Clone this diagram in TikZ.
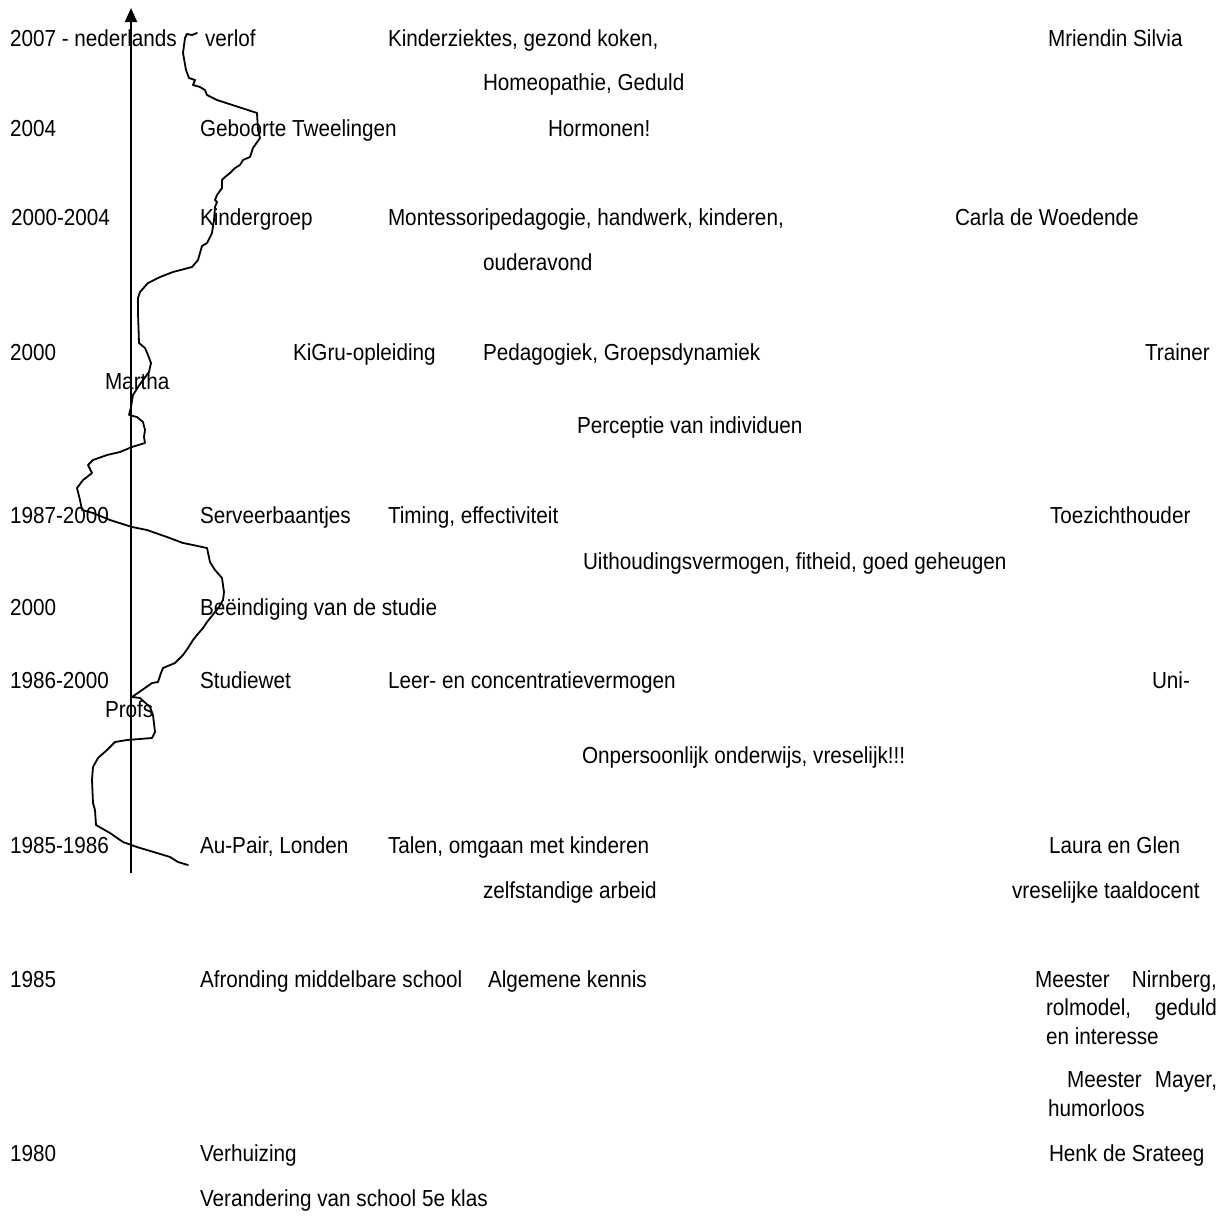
\documentclass[tikz,border=0pt]{standalone}
\usepackage{graphicx}
\usepackage{fontspec}
\setmainfont{Liberation Sans}
\usetikzlibrary{arrows.meta}
\newcommand\vstretch[1]{\scalebox{1}[1.12]{#1}}
\begin{document}
\begin{tikzpicture}[x=1pt,y=-1pt,
  lbl/.style={anchor=base west,inner sep=0pt,outer sep=0pt,font=\fontsize{20.7}{24}\selectfont},
  axisline/.style={line width=2pt,-{Triangle[width=12pt,length=14pt]}},
  lifeline/.style={line width=1.8pt,line join=round,line cap=round}]
\useasboundingbox[fill=white] (0,0) rectangle (1228,1216);
% axis
\coordinate (axbot) at (131,873);
\coordinate (axtop) at (131,8);
\draw[axisline] (axbot) -- (axtop);
% life curve
\draw[lifeline] plot coordinates {
(197,33) (192,35) (187,34) (185,38) (183,53) (186,70) (189,78) (195,80) (193,85) (200,87) (205,90) (207,95) (217,100) (257,113) (258,130) (260,138) (253,148) (250,157) (243,160) (240,165) (235,168) (230,173) (225,177) (222,180) (222,188) (217,195) (215,200) (217,202) (215,207) (214,220) (212,233) (207,243) (202,246) (200,253) (198,260) (192,267) (173,272) (160,277) (148,283) (140,292) (138,298) (138,313) (139,343) (145,348) (148,355) (151,363) (149,372) (143,380) (138,387) (133,395) (131,407) (129,415) (137,417) (143,422) (145,430) (144,437) (145,443) (132,447) (120,452) (107,455) (93,460) (88,465) (92,473) (87,477) (83,480) (77,488) (80,500) (82,510) (93,513) (110,520) (132,527) (147,530) (167,537) (183,543) (193,545) (207,548) (210,562) (215,570) (222,578) (224,592) (223,600) (219,607) (215,612) (207,622) (203,628) (197,635) (193,640) (188,648) (183,655) (175,663) (163,668) (161,673) (158,682) (152,683) (145,688) (132,697) (140,698) (150,707) (153,715) (155,732) (152,738) (127,740) (115,742) (107,750) (98,758) (93,767) (92,780) (93,803) (95,810) (96,825) (110,833) (123,842) (137,847) (157,853) (170,857) (178,862) (188,865)};
% texts
\node[lbl] (y2007) at (10,46) {\vstretch{2007 - nederlands}};
\node[lbl] (verlof) at (205,46) {\vstretch{verlof}};
\node[lbl] (kinderz) at (388,46) {\vstretch{Kinderziektes, gezond koken,}};
\node[lbl] (silvia) at (1048,46) {\vstretch{Mriendin Silvia}};
\node[lbl] (homeo) at (483,90) {\vstretch{Homeopathie, Geduld}};
\node[lbl] (y2004) at (10,136) {\vstretch{2004}};
\node[lbl] (geboorte) at (200,136) {\vstretch{Geboorte Tweelingen}};
\node[lbl] (hormonen) at (548,136) {\vstretch{Hormonen!}};
\node[lbl] (y2000a) at (11,225) {\vstretch{2000-2004}};
\node[lbl] (kindergroep) at (200,225) {\vstretch{Kindergroep}};
\node[lbl] (montessori) at (388,225) {\vstretch{Montessoripedagogie, handwerk, kinderen,}};
\node[lbl] (carla) at (955,225) {\vstretch{Carla de Woedende}};
\node[lbl] (ouderavond) at (483,270) {\vstretch{ouderavond}};
\node[lbl] (y2000b) at (10,360) {\vstretch{2000}};
\node[lbl] (kigru) at (293,360) {\vstretch{KiGru-opleiding}};
\node[lbl] (pedagogiek) at (483,360) {\vstretch{Pedagogiek, Groepsdynamiek}};
\node[lbl] (trainer) at (1145,360) {\vstretch{Trainer}};
\node[lbl] (martha) at (105,389) {\vstretch{Martha}};
\node[lbl] (perceptie) at (577,433) {\vstretch{Perceptie van individuen}};
\node[lbl] (y1987) at (10,523) {\vstretch{1987-2000}};
\node[lbl] (serveer) at (200,523) {\vstretch{Serveerbaantjes}};
\node[lbl] (timing) at (388,523) {\vstretch{Timing, effectiviteit}};
\node[lbl] (toezicht) at (1050,523) {\vstretch{Toezichthouder}};
\node[lbl] (uithoud) at (583,569) {\vstretch{Uithoudingsvermogen, fitheid, goed geheugen}};
\node[lbl] (y2000c) at (10,615) {\vstretch{2000}};
\node[lbl] (beeindiging) at (200,615) {\vstretch{Beëindiging van de studie}};
\node[lbl] (y1986) at (10,688) {\vstretch{1986-2000}};
\node[lbl] (studiewet) at (200,688) {\vstretch{Studiewet}};
\node[lbl] (leer) at (388,688) {\vstretch{Leer- en concentratievermogen}};
\node[lbl] (uni) at (1152,688) {\vstretch{Uni-}};
\node[lbl] (profs) at (105,717) {\vstretch{Profs}};
\node[lbl] (onpers) at (582,763) {\vstretch{Onpersoonlijk onderwijs, vreselijk!!!}};
\node[lbl] (y1985a) at (10,853) {\vstretch{1985-1986}};
\node[lbl] (aupair) at (200,853) {\vstretch{Au-Pair, Londen}};
\node[lbl] (talen) at (388,853) {\vstretch{Talen, omgaan met kinderen}};
\node[lbl] (laura) at (1049,853) {\vstretch{Laura en Glen}};
\node[lbl] (zelfst) at (483,898) {\vstretch{zelfstandige arbeid}};
\node[lbl] (taaldocent) at (1012,898) {\vstretch{vreselijke taaldocent}};
\node[lbl] (y1985b) at (10,987) {\vstretch{1985}};
\node[lbl] (afronding) at (200,987) {\vstretch{Afronding middelbare school}};
\node[lbl] (algemene) at (488,987) {\vstretch{Algemene kennis}};
\node[lbl] (nirnberg) at (1035,987) {\vstretch{\makebox[182pt][s]{Meester Nirnberg,}}};
\node[lbl] (rolmodel) at (1046,1015) {\vstretch{\makebox[171pt][s]{rolmodel, geduld}}};
\node[lbl] (interesse) at (1046,1044) {\vstretch{en interesse}};
\node[lbl] (mayer) at (1067,1087) {\vstretch{\makebox[150pt][s]{Meester Mayer,}}};
\node[lbl] (humor) at (1048,1116) {\vstretch{humorloos}};
\node[lbl] (y1980) at (10,1161) {\vstretch{1980}};
\node[lbl] (verhuizing) at (200,1161) {\vstretch{Verhuizing}};
\node[lbl] (henk) at (1049,1161) {\vstretch{Henk de Srateeg}};
\node[lbl] (verandering) at (200,1206) {\vstretch{Verandering van school 5e klas}};
\end{tikzpicture}
\end{document}
